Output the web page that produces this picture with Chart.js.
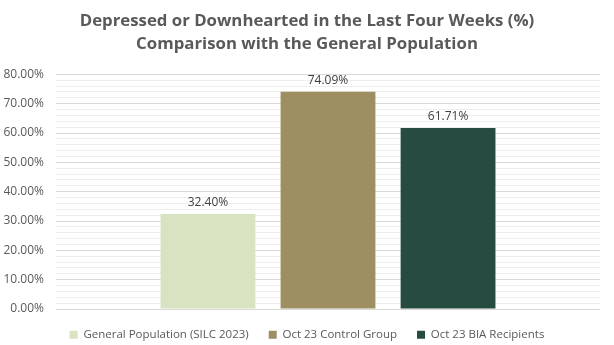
<!DOCTYPE html>
<html>
<head>
<meta charset="utf-8">
<script src="https://cdn.jsdelivr.net/npm/chart.js@4/dist/chart.umd.min.js"></script>
<style>
  html, body { margin: 0; padding: 0; background: #ffffff; }
  #wrap { width: 614px; height: 345px; position: relative; }
</style>
</head>
<body>
<div id="wrap"><canvas id="c"></canvas></div>
<script>
// Share of respondents reporting feeling depressed or downhearted (%)
const categories = [''];
const seriesNames = ['General Population (SILC 2023)', 'Oct 23 Control Group', 'Oct 23 BIA Recipients'];
const seriesValues = [32.40, 74.09, 61.71];
const seriesColors = ['#d8e3c1', '#9d8f62', '#264c41'];
const titleLines = ['Depressed or Downhearted in the Last Four Weeks (%)', 'Comparison with the General Population'];

const FONT = '"Open Sans", "Noto Sans", sans-serif';

// Writes each bar's value just above it
const valueLabels = {
  id: 'valueLabels',
  afterDatasetsDraw(chart) {
    const ctx = chart.ctx;
    ctx.save();
    ctx.font = '12px ' + FONT;
    ctx.fillStyle = '#404040';
    ctx.textAlign = 'center';
    ctx.textBaseline = 'bottom';
    chart.data.datasets.forEach((ds, i) => {
      const meta = chart.getDatasetMeta(i);
      meta.data.forEach((bar, j) => {
        ctx.fillText(ds.data[j].toFixed(2) + '%', bar.x, bar.y - 5);
      });
    });
    ctx.restore();
  }
};

// Centres title and legend on the whole canvas rather than on the padded box
const centreBlocks = {
  id: 'centreBlocks',
  afterLayout(chart) {
    const shift = 5;
    [chart.titleBlock, chart.legend].forEach(b => {
      if (b) { b.left += shift; b.right += shift; }
    });
  }
};

new Chart(document.getElementById('c'), {
  type: 'bar',
  data: {
    labels: categories,
    datasets: seriesNames.map((name, i) => ({
      label: name,
      data: [seriesValues[i]],
      backgroundColor: seriesColors[i],
      borderWidth: 0,
      categoryPercentage: 0.662,
      barPercentage: 0.79
    }))
  },
  options: {
    responsive: true,
    maintainAspectRatio: false,
    animation: false,
    layout: { padding: { left: 4, right: 14, top: 0, bottom: 0 } },
    plugins: {
      title: {
        display: true,
        text: titleLines,
        color: '#595959',
        font: { family: FONT, size: 16.8, weight: 'bold', lineHeight: 1.35 },
        padding: { top: 10, bottom: 19 }
      },
      legend: {
        position: 'bottom',
        maxHeight: 36,
        labels: {
          color: '#595959',
          font: { family: FONT, size: 11.5 },
          boxWidth: 8,
          boxHeight: 8,
          padding: 20
        }
      },
      tooltip: { enabled: false }
    },
    scales: {
      x: {
        display: false
      },
      y: {
        min: 0,
        max: 80,
        afterFit: scale => { scale.width = 52; },
        border: { display: false },
        grid: {
          color: ctx => (ctx.tick && ctx.tick.value % 10 === 0) ? '#d9d9d9' : '#eeeeee',
          lineWidth: 1,
          drawTicks: false
        },
        ticks: {
          stepSize: 2,
          autoSkip: false,
          padding: 12,
          color: '#595959',
          font: { family: FONT, size: 12 },
          callback: v => (v % 10 === 0) ? v.toFixed(2) + '%' : ''
        }
      }
    }
  },
  plugins: [valueLabels, centreBlocks]
});
</script>
</body>
</html>
